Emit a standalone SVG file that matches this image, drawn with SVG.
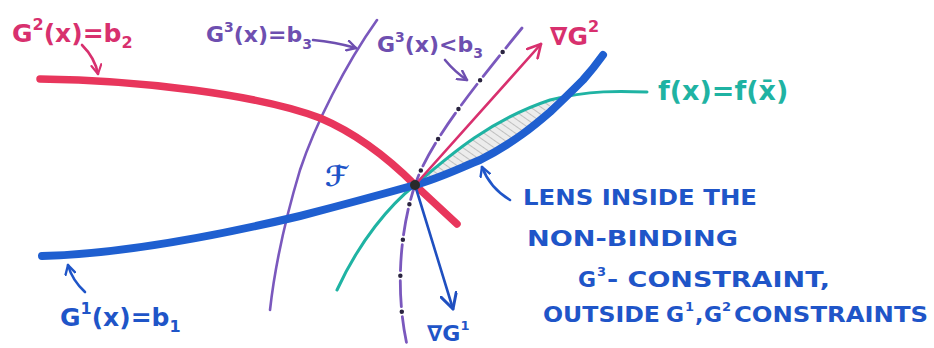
<svg xmlns="http://www.w3.org/2000/svg" width="934" height="348" viewBox="0 0 934 348">
<style>
  text { font-family: "DejaVu Sans", "Liberation Sans", sans-serif; font-weight: bold; }
  .crim { fill: #d8306e; }
  .purp { fill: #6e4fb0; }
  .teal { fill: #1fb3a3; }
  .blue { fill: #1f55c8; }
  .curve { fill: none; stroke-linecap: round; stroke-linejoin: round; }
  .lead { fill: none; stroke-width: 2.6; stroke-linecap: round; }
</style>
<defs>
  <marker id="hRed" viewBox="0 0 12 12" refX="10" refY="6" markerWidth="12" markerHeight="12" markerUnits="userSpaceOnUse" orient="auto">
    <path d="M1,1 L10,6 L1,11" fill="none" stroke="#d8306e" stroke-width="2.2" stroke-linecap="round" stroke-linejoin="round"/>
  </marker>
  <marker id="hRedBig" viewBox="0 0 16 16" refX="14" refY="8" markerWidth="16" markerHeight="16" markerUnits="userSpaceOnUse" orient="auto">
    <path d="M1,1 L14,8 L1,15" fill="none" stroke="#d8306e" stroke-width="2.6" stroke-linecap="round" stroke-linejoin="round"/>
  </marker>
  <marker id="hBlue" viewBox="0 0 12 12" refX="10" refY="6" markerWidth="12" markerHeight="12" markerUnits="userSpaceOnUse" orient="auto">
    <path d="M1,1 L10,6 L1,11" fill="none" stroke="#1f55c8" stroke-width="2.4" stroke-linecap="round" stroke-linejoin="round"/>
  </marker>
  <marker id="hBlueBig" viewBox="0 0 18 18" refX="16" refY="9" markerWidth="18" markerHeight="18" markerUnits="userSpaceOnUse" orient="auto">
    <path d="M1,1 L16,9 L1,17" fill="none" stroke="#1f4fc0" stroke-width="3" stroke-linecap="round" stroke-linejoin="round"/>
  </marker>
  <marker id="hPurp" viewBox="0 0 12 12" refX="10" refY="6" markerWidth="12" markerHeight="12" markerUnits="userSpaceOnUse" orient="auto">
    <path d="M1,1 L10,6 L1,11" fill="none" stroke="#6e4fb0" stroke-width="2.4" stroke-linecap="round" stroke-linejoin="round"/>
  </marker>
  <pattern id="hatch" width="6" height="6" patternUnits="userSpaceOnUse" patternTransform="rotate(-55)">
    <rect width="6" height="6" fill="#ececec"/>
    <line x1="0" y1="0" x2="0" y2="6" stroke="#b4b4b4" stroke-width="1.6"/>
  </pattern>
</defs>

<g id="lens">
  <path d="M415,185 C450,155 490,120 550,100 C555,98 558,97 560,96 C540,115 520,140 480,160 C460,168 440,178 415,185 Z" fill="url(#hatch)"/>
</g>

<g id="G3-boundary">
  <path class="curve" d="M377,20 C345,65 315,125 300,170 C285,220 275,265 270,310" stroke="#7a58bd" stroke-width="2.6"/>
</g>

<g id="G3-interior">
  <path class="curve" d="M522,28 C480,80 430,140 415,185 C400,230 395,290 407,345" stroke="#7a58bd" stroke-width="2.8" stroke-dasharray="26 10" stroke-linecap="butt"/>
  <path class="curve" d="M522,28 C480,80 430,140 415,185 C400,230 395,290 407,345" stroke="#2a2440" stroke-width="4.5" stroke-dasharray="0 36" stroke-dashoffset="-31"/>
</g>

<g id="f-level">
  <path class="curve" d="M337,290 C360,240 390,205 415,185 C450,155 490,120 550,100 C590,90 620,91 647,92" stroke="#1fb3a3" stroke-width="3"/>
</g>

<g id="G2-boundary">
  <path class="curve" d="M40,79 C140,80 260,95 320,118 C360,135 390,160 415,185 L457,224" stroke="#e8365c" stroke-width="7.5"/>
</g>

<g id="G1-boundary">
  <path class="curve" d="M42,256 C120,254 220,235 300,216 C350,203 390,192 415,185 C440,178 460,168 480,160 C515,142 535,125 550,112 C565,98 578,85 583,80 C592,70 598,62 603,55" stroke="#1f5fd0" stroke-width="8"/>
</g>

<g id="connectors">
  <path class="lead" d="M415,185 L541,44" stroke="#d8306e" stroke-width="2.4" marker-end="url(#hRedBig)"/>
  <path class="lead" d="M415,185 L453,309" stroke="#1f4fc0" stroke-width="3" marker-end="url(#hBlueBig)"/>
  <path class="lead" d="M82,45 Q95,58 98,74" stroke="#d8306e" marker-end="url(#hRed)"/>
  <path class="lead" d="M313,40 Q335,42 356,48" stroke="#6e4fb0" marker-end="url(#hPurp)"/>
  <path class="lead" d="M445,60 Q455,72 467,80" stroke="#6e4fb0" marker-end="url(#hPurp)"/>
  <path class="lead" d="M85,292 Q72,280 68,265" stroke="#1f55c8" stroke-width="3" marker-end="url(#hBlue)"/>
  <path class="lead" d="M510,200 Q490,188 482,167" stroke="#1f55c8" stroke-width="3" marker-end="url(#hBlue)"/>
</g>

<g id="optimum">
  <circle cx="415" cy="185" r="5" fill="#2a2a2a"/>
</g>

<g id="labels">
  <text class="crim" x="12" y="42" font-size="25">G<tspan font-size="16" dy="-12">2</tspan><tspan dy="12">(x)=b</tspan><tspan font-size="16" dy="6">2</tspan></text>
  <text class="purp" x="206" y="42" font-size="22">G<tspan font-size="14" dy="-10">3</tspan><tspan dy="10">(x)=b</tspan><tspan font-size="14" dy="7">3</tspan></text>
  <text class="purp" x="377" y="52" font-size="22">G<tspan font-size="14" dy="-10">3</tspan><tspan dy="10">(x)&lt;b</tspan><tspan font-size="14" dy="6">3</tspan></text>
  <text class="crim" x="550" y="45" font-size="25">∇G<tspan font-size="16" dy="-13">2</tspan></text>
  <text class="teal" x="658" y="100" font-size="27">f(x)=f(x̄)</text>
  <text class="blue" x="60" y="326" font-size="25">G<tspan font-size="16" dy="-12">1</tspan><tspan dy="12">(x)=b</tspan><tspan font-size="16" dy="6">1</tspan></text>
  <text class="blue" x="427" y="341" font-size="22">∇G<tspan font-size="13" dy="-11">1</tspan></text>
  <text class="blue" x="325" y="186" font-size="28" font-style="italic" font-weight="normal">ℱ</text>

  <text class="blue" x="523" y="205" font-size="22" textLength="234" lengthAdjust="spacingAndGlyphs">LENS INSIDE THE</text>
  <text class="blue" x="527" y="246" font-size="22" textLength="211" lengthAdjust="spacingAndGlyphs">NON-BINDING</text>
  <text class="blue" x="578" y="287" font-size="22">G</text>
  <text class="blue" x="597" y="276" font-size="13">3</text>
  <text class="blue" x="607" y="287" font-size="22" textLength="223" lengthAdjust="spacingAndGlyphs">- CONSTRAINT,</text>
  <text class="blue" x="543" y="322" font-size="22" textLength="117" lengthAdjust="spacingAndGlyphs">OUTSIDE</text>
  <text class="blue" x="666" y="322" font-size="22">G</text>
  <text class="blue" x="685" y="311" font-size="13">1</text>
  <text class="blue" x="695" y="322" font-size="22">,</text>
  <text class="blue" x="704" y="322" font-size="22">G</text>
  <text class="blue" x="722" y="311" font-size="13">2</text>
  <text class="blue" x="734" y="322" font-size="22" textLength="194" lengthAdjust="spacingAndGlyphs">CONSTRAINTS</text>
</g>
</svg>
